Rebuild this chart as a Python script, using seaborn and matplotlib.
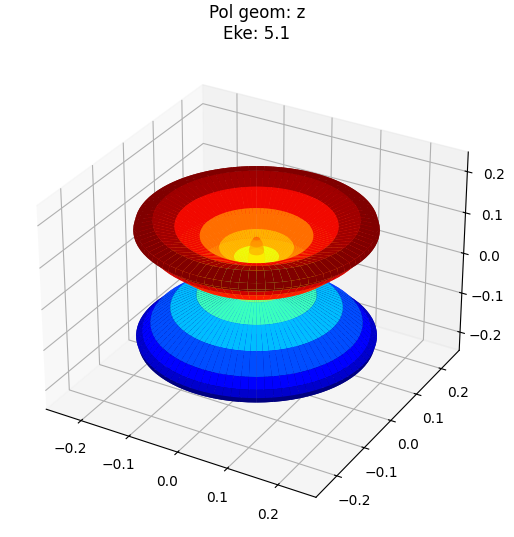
import numpy as np
import matplotlib
matplotlib.use("Agg")
import matplotlib.pyplot as plt
import seaborn as sns

sns.set_style("ticks")
plt.rcdefaults()

# Meridian of the upper lobe, from the tip on the axis round to the waist:
# distance from the axis, height, and position on the jet colour scale
lobe_rho = [0.000, 0.006, 0.011, 0.013, 0.016, 0.040, 0.066, 0.100, 0.144, 0.182, 0.213, 0.216, 0.205, 0.190, 0.154, 0.107, 0.060, 0.002]
lobe_z = [0.108, 0.103, 0.090, 0.072, 0.034, 0.060, 0.083, 0.112, 0.136, 0.151, 0.143, 0.130, 0.118, 0.098, 0.062, 0.032, 0.011, 0.002]
lobe_level = [0.80, 0.76, 0.72, 0.66, 0.64, 0.72, 0.79, 0.90, 0.97, 1.00, 1.00, 1.00, 0.93, 0.88, 0.80, 0.69, 0.58, 0.50]
azimuth_deg = list(range(0, 361, 4))
tick_values = [-0.2, -0.1, 0.0, 0.1, 0.2]
title_text = "Pol geom: z\nEke: 5.1"

# Lower lobe is the mirror image of the upper one
rho = np.array(lobe_rho + lobe_rho[::-1][1:])
z = np.array(lobe_z + [-v for v in lobe_z[::-1][1:]])
level = np.array(lobe_level + [1 - v for v in lobe_level[::-1][1:]])

phi = np.radians(azimuth_deg)[:, None]
X = rho[None, :] * np.cos(phi)
Y = rho[None, :] * np.sin(phi)
Z = np.tile(z, (len(azimuth_deg), 1))
colours = plt.cm.jet(np.tile(level, (len(azimuth_deg), 1)))

fig = plt.figure(figsize=(5.14, 5.37), dpi=100)
ax = fig.add_axes([0.0195, 0.0175, 0.934, 0.894], projection="3d")
ax.plot_surface(X, Y, Z, rstride=1, cstride=1, facecolors=colours,
                linewidth=0, antialiased=True, shade=False)
ax.set_xlim(-0.274, 0.274)
ax.set_ylim(-0.274, 0.274)
ax.set_zlim(-0.247, 0.247)
ax.set_xticks(tick_values)
ax.set_yticks(tick_values)
ax.set_zticks(tick_values)
fig.suptitle(title_text, x=0.5, y=0.992, fontsize=12, va="top")
fig.savefig("out.png", dpi=100)
